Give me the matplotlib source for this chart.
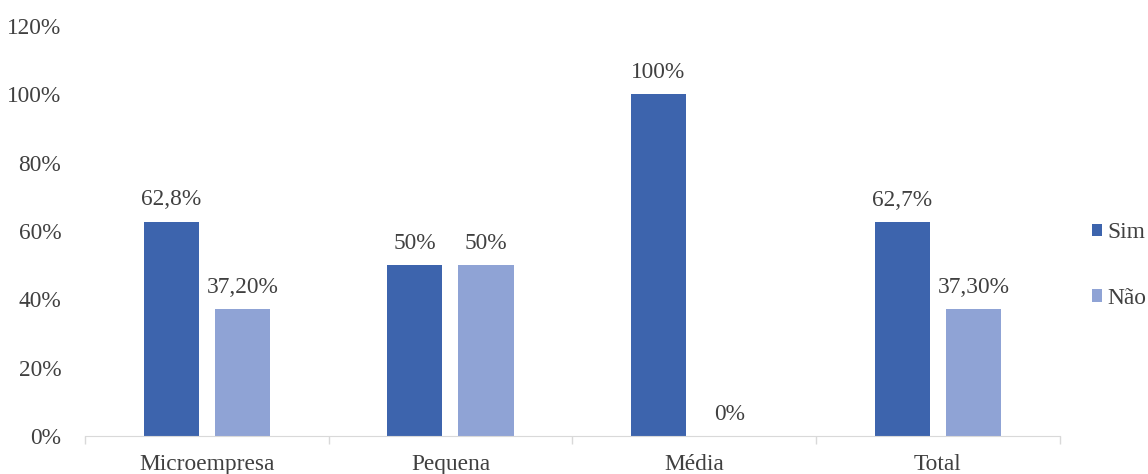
import matplotlib.pyplot as plt
import numpy as np

plt.rcParams['font.family'] = ['Liberation Serif', 'DejaVu Serif']

categorias = ["Microempresa", "Pequena", "Média", "Total"]
sim = [62.8, 50, 100, 62.7]
nao = [37.2, 50, 0, 37.3]
rotulos_sim = ["62,8%", "50%", "100%", "62,7%"]
rotulos_nao = ["37,20%", "50%", "0%", "37,30%"]

cor_sim = "#3d64ad"
cor_nao = "#8fa3d5"
cinza = "#404040"
fs = 16.8

fig = plt.figure(figsize=(11.48, 4.74), dpi=100)
ax = fig.add_axes([0.074, 0.080, 0.849, 0.865])

x = np.arange(len(categorias))
w = 0.226
b1 = ax.bar(x - 0.146, sim, w, color=cor_sim, label="Sim")
b2 = ax.bar(x + 0.146, nao, w, color=cor_nao, label="Não")

for barras, rot in [(b1, rotulos_sim), (b2, rotulos_nao)]:
    for b, t in zip(barras, rot):
        ax.annotate(t, (b.get_x() + b.get_width() / 2, b.get_height()),
                    xytext=(0, 8), textcoords="offset points",
                    ha="center", va="bottom", fontsize=fs, color=cinza)

ax.set_xlim(-0.5, len(categorias) - 0.5)
ax.set_ylim(0, 120)
ax.set_yticks(range(0, 121, 20))
ax.set_yticklabels([f"{v}%" for v in range(0, 121, 20)], fontsize=fs, color=cinza)
ax.tick_params(axis="y", length=0, pad=17)

ax.set_xticks(x)
ax.set_xticklabels(categorias, fontsize=fs, color=cinza)
ax.tick_params(axis="x", which="major", length=0, pad=13)
ax.set_xticks(np.arange(-0.5, len(categorias), 1), minor=True)
ax.tick_params(axis="x", which="minor", length=6, color="#d9d9d9", width=1)

for s in ["top", "right", "left"]:
    ax.spines[s].set_visible(False)
ax.spines["bottom"].set_color("#d9d9d9")

leg = ax.legend(loc="center left", bbox_to_anchor=(1.0236, 0.416), frameon=False,
                fontsize=fs, handlelength=0.45, handleheight=0.45,
                handletextpad=0.2, labelspacing=1.9, borderaxespad=0)
for t in leg.get_texts():
    t.set_color(cinza)

plt.savefig("out.png")
